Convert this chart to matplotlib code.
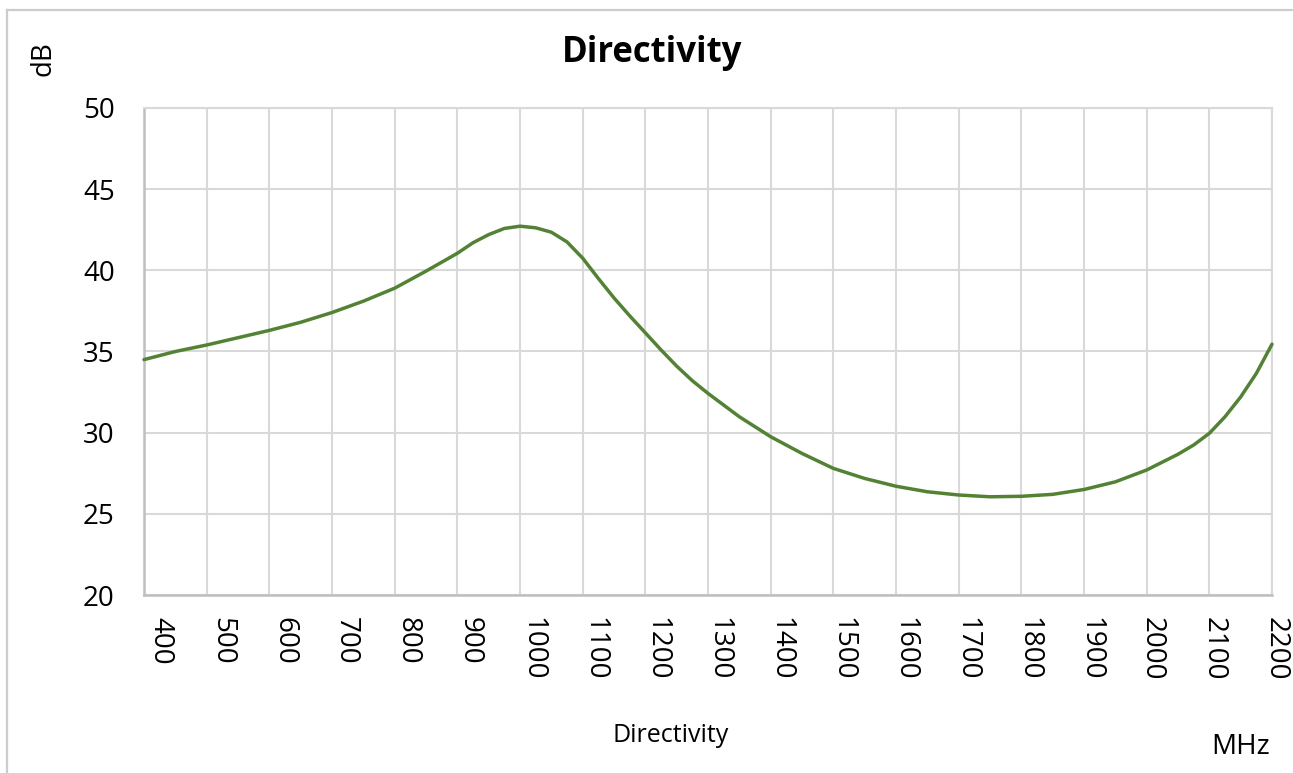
import matplotlib
matplotlib.use("Agg")
import matplotlib.pyplot as plt
import matplotlib.transforms as mtransforms
from matplotlib.lines import Line2D

# ---- data ----
freq_mhz = [400, 450, 500, 550, 600, 650, 700, 750, 800, 850, 900, 925, 950, 975,
            1000, 1025, 1050, 1075, 1100, 1125, 1150, 1175, 1200, 1225, 1250,
            1275, 1300, 1350, 1400, 1450, 1500, 1550, 1600, 1650, 1700, 1750,
            1800, 1850, 1900, 1950, 2000, 2050, 2075, 2100, 2125, 2150, 2175, 2200]
directivity_db = [34.5, 35.0, 35.4, 35.85, 36.3, 36.8, 37.4, 38.1, 38.9, 39.95,
                  41.05, 41.7, 42.2, 42.58, 42.72, 42.62, 42.35, 41.75, 40.75,
                  39.5, 38.3, 37.2, 36.15, 35.1, 34.1, 33.2, 32.42, 30.98, 29.75,
                  28.72, 27.8, 27.18, 26.7, 26.36, 26.16, 26.05, 26.08, 26.2,
                  26.5, 26.97, 27.7, 28.67, 29.24, 29.96, 30.98, 32.2, 33.65, 35.45]
x_ticks = list(range(400, 2201, 100))
y_ticks = [20, 25, 30, 35, 40, 45, 50]

W, H = 1293, 773
fig = plt.figure(figsize=(W / 100, H / 100), dpi=100)
fig.patch.set_facecolor("white")

font = "Open Sans"
ax = fig.add_axes([144 / W, (H - 595) / H, (1272 - 144) / W, (595 - 108) / H])
ax.set_xlim(400, 2200)
ax.set_ylim(20, 50)

ax.plot(freq_mhz, directivity_db, color="#548235", lw=2.5, solid_capstyle="round",
        solid_joinstyle="round", clip_on=False, zorder=3)

ax.set_xticks(x_ticks)
ax.set_yticks(y_ticks)
ax.set_xticklabels([str(t) for t in x_ticks], rotation=270, fontsize=20,
                   family=font, va="top", ha="center")
ax.set_yticklabels([str(t) for t in y_ticks], fontsize=20, family=font)
ax.tick_params(axis="both", length=0)
ax.tick_params(axis="y", pad=21)
ax.tick_params(axis="x", pad=16)

# shift x tick labels slightly right (as in the reference)
n = len(x_ticks)
for i, lab in enumerate(ax.get_xticklabels()):
    dx = (16 - 12 * i / (n - 1)) / 100.0
    lab.set_transform(lab.get_transform() +
                      mtransforms.ScaledTranslation(dx, 0, fig.dpi_scale_trans))

ax.grid(True, color="#d9d9d9", lw=1.5, zorder=0)
ax.set_axisbelow(True)
for side in ["left", "bottom"]:
    ax.spines[side].set_color("#bfbfbf")
    ax.spines[side].set_linewidth(1.8)
for side in ["top", "right"]:
    ax.spines[side].set_color("#d9d9d9")
    ax.spines[side].set_linewidth(1.5)

# texts
fig.text(652 / W, 1 - 53 / H, "Directivity", fontsize=25, fontweight="bold",
         family=font, ha="center", va="center")
fig.text(671 / W, 1 - 736 / H, "Directivity", fontsize=18, family=font,
         ha="center", va="center")
fig.text(1241 / W, 1 - 747 / H, "MHz", fontsize=20, family=font,
         ha="center", va="center")
fig.text(44 / W, 1 - 59 / H, "dB", fontsize=20, family=font, rotation=90,
         ha="center", va="center")

# outer border (top and left)
fig.add_artist(Line2D([7 / W, 1.0], [1 - 10 / H, 1 - 10 / H],
                      transform=fig.transFigure, color="#cccccc", lw=1.6))
fig.add_artist(Line2D([7 / W, 7 / W], [1 - 10 / H, 0.0],
                      transform=fig.transFigure, color="#cccccc", lw=1.6))

fig.savefig("out.png", dpi=100, facecolor="white")
